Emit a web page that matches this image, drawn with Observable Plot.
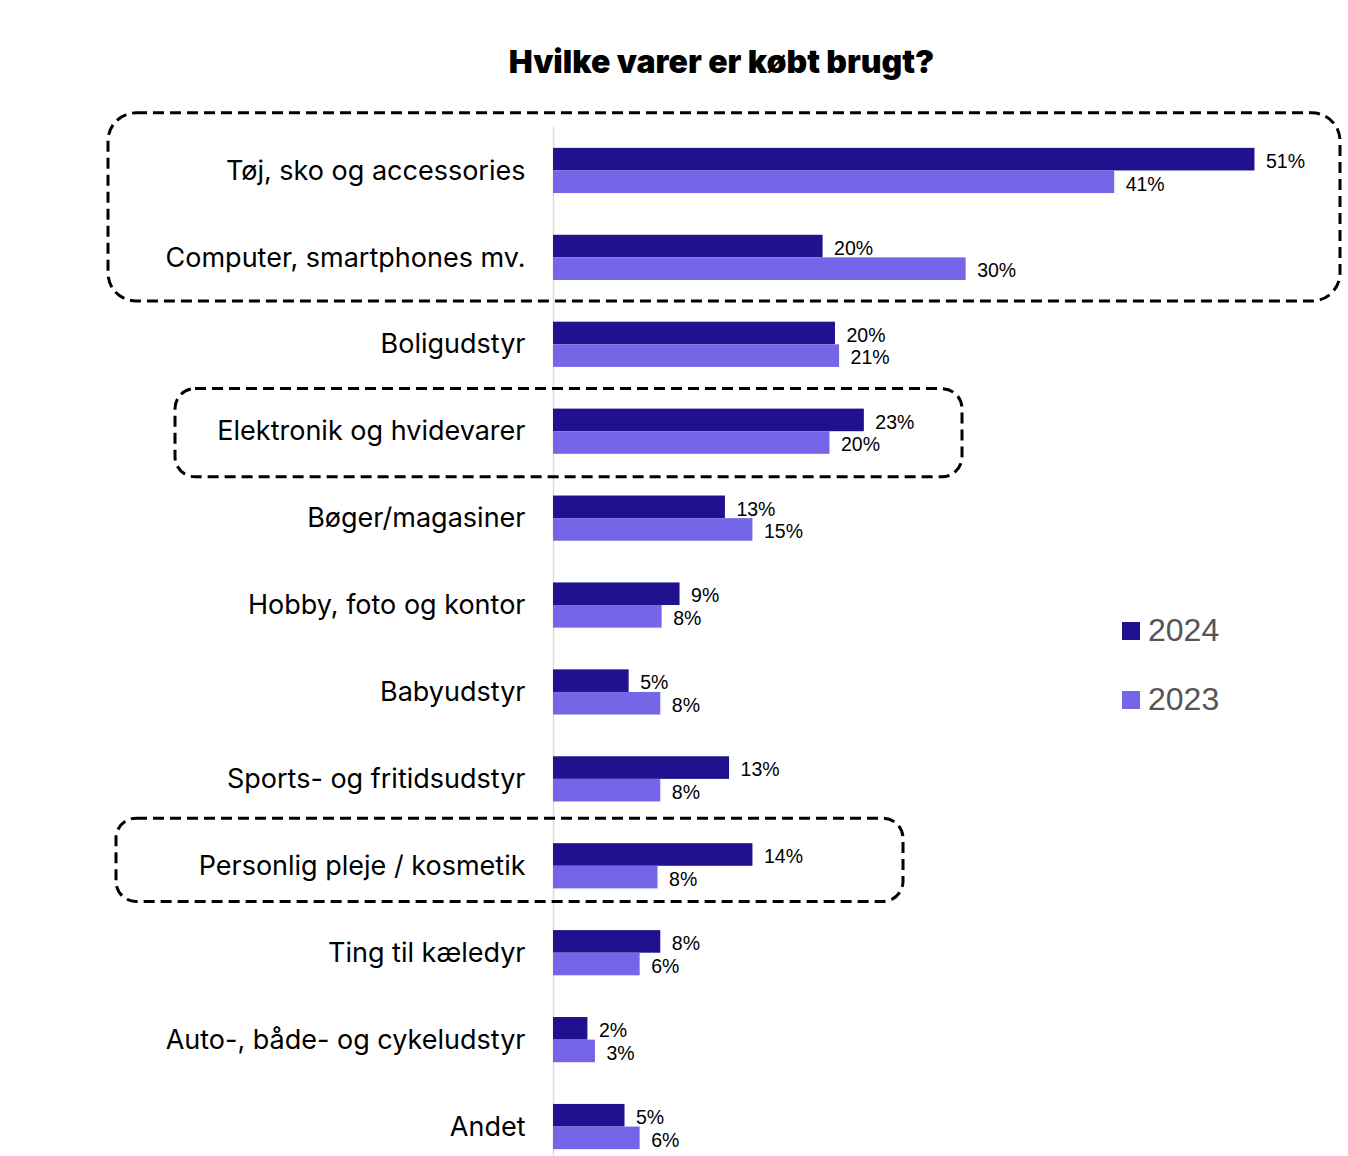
<!DOCTYPE html>
<html><head><meta charset="utf-8">
<script src="https://cdn.jsdelivr.net/npm/d3@7"></script>
<script src="https://cdn.jsdelivr.net/npm/@observablehq/plot@0.6"></script>
<style>
html,body{margin:0;padding:0;background:#fff;overflow:hidden;}
#wrap{position:relative;width:1348px;height:1156px;overflow:hidden;}
#title{position:absolute;left:0;top:42px;width:1348px;padding-left:95px;box-sizing:border-box;text-align:center;font-family:Inter,sans-serif;font-weight:900;font-size:32px;line-height:40px;color:#000;}
#chart{position:absolute;left:0;top:100px;}
.leg{position:absolute;left:1122px;display:flex;align-items:center;font-family:"Liberation Sans",Arial,sans-serif;font-size:32px;color:#555;}
.leg span.sw{display:inline-block;width:18px;height:18px;margin-right:8px;}
</style>
</head><body>
<div id="wrap">
<div id="title">Hvilke varer er købt brugt?</div>
<div id="chart"></div>
<div id="legend"></div>
</div>
<script>
const categories = ["Tøj, sko og accessories","Computer, smartphones mv.","Boligudstyr","Elektronik og hvidevarer","Bøger/magasiner","Hobby, foto og kontor","Babyudstyr","Sports- og fritidsudstyr","Personlig pleje / kosmetik","Ting til kæledyr","Auto-, både- og cykeludstyr","Andet"];
const years = ["2024","2023"];
const colors = ["#20128f","#7566e8"];
const values2024 = [51.0,19.6,20.5,22.6,12.5,9.2,5.5,12.8,14.5,7.8,2.5,5.2];
const values2023 = [40.8,30.0,20.8,20.1,14.5,7.9,7.8,7.8,7.6,6.3,3.05,6.3];
const labels2024 = ["51%","20%","20%","23%","13%","9%","5%","13%","14%","8%","2%","5%"];
const labels2023 = ["41%","30%","21%","20%","15%","8%","8%","8%","8%","6%","3%","6%"];
// highlighted groups (annotation boxes)
const boxes = [
  {from:"Tøj, sko og accessories", to:"Computer, smartphones mv.", left:108, right:1340, padTop:35, padBottom:21, r:28},
  {from:"Elektronik og hvidevarer", to:"Elektronik og hvidevarer", left:175, right:962, padTop:20, padBottom:23, r:20},
  {from:"Personlig pleje / kosmetik", to:"Personlig pleje / kosmetik", left:116, right:903, padTop:25, padBottom:13, r:20}
];

const d24 = categories.map((c,i)=>({cat:c, year:years[0], value:values2024[i], label:labels2024[i]}));
const d23 = categories.map((c,i)=>({cat:c, year:years[1], value:values2023[i], label:labels2023[i]}));

const W = 1348, H = 1070, MT = 27, MB = 0;
const PI = 0.48, PO = 0.24;
const step = (H - MT - MB) / (categories.length - PI + 2*PO);
const half = step * (1 - PI) / 2;

const plot = Plot.plot({
  width: W, height: H,
  marginLeft: 553, marginRight: 11, marginTop: MT, marginBottom: MB,
  style: {fontFamily: "Inter, sans-serif", fontSize: "27px", color: "#000", background: "transparent", overflow: "visible"},
  x: {domain: [0, 57], axis: null},
  y: {domain: categories, paddingInner: PI, paddingOuter: PO, round: false, tickSize: 0, tickPadding: 28, label: null},
  marks: [
    Plot.ruleX([0], {stroke: "#dcdcdc", strokeWidth: 1.5}),
    Plot.barX(d24, {x: "value", y: "cat", fill: colors[0], insetBottom: half}),
    Plot.barX(d23, {x: "value", y: "cat", fill: colors[1], insetTop: half}),
    Plot.text(d24, {x: "value", y: "cat", text: "label", dx: 11, dy: -half/2 + 2, textAnchor: "start", fontSize: 19.5, fill: "#000", fontFamily: "Liberation Sans, Arial, sans-serif"}),
    Plot.text(d23, {x: "value", y: "cat", text: "label", dx: 11, dy: half/2 + 2, textAnchor: "start", fontSize: 19.5, fill: "#000", fontFamily: "Liberation Sans, Arial, sans-serif"})
  ]
});
document.getElementById("chart").appendChild(plot);

// annotation boxes
const ys = plot.scale("y");
const svg = d3.select(plot);
for (const b of boxes) {
  const top = ys.apply(b.from) - b.padTop;
  const bottom = ys.apply(b.to) + ys.bandwidth + b.padBottom;
  svg.append("rect")
    .attr("x", b.left).attr("y", top)
    .attr("width", b.right - b.left).attr("height", bottom - top)
    .attr("rx", b.r).attr("ry", b.r)
    .attr("fill", "none").attr("stroke", "#000")
    .attr("stroke-width", 3).attr("stroke-dasharray", "11,6");
}

// legend
const leg = document.getElementById("legend");
years.forEach((y,i)=>{
  const div = document.createElement("div");
  div.className = "leg";
  div.style.top = (612 + i*69) + "px";
  div.innerHTML = `<span class="sw" style="background:${colors[i]}"></span>${y}`;
  leg.appendChild(div);
});
</script>
</body></html>
